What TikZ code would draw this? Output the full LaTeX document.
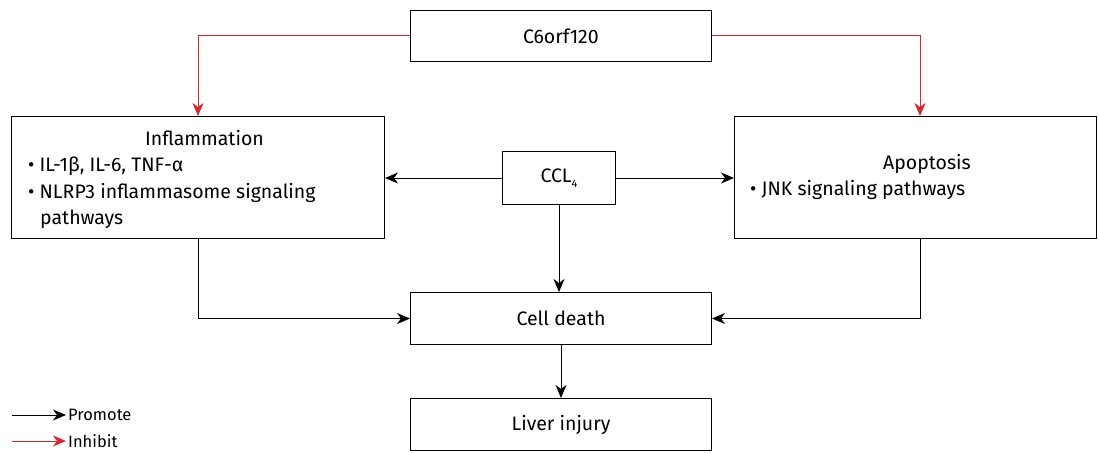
\documentclass[tikz,border=0pt]{standalone}
\usepackage{fontspec}
\setmainfont{Fira Sans}
\usetikzlibrary{arrows.meta}
\definecolor{inhred}{RGB}{214,40,48}
\begin{document}
\begin{tikzpicture}[x=1pt,y=-1pt,
  box/.style={draw,line width=1pt,inner sep=0pt,anchor=north west},
  prom/.style={line width=1pt,-{Stealth[length=13pt,width=11pt,inset=4pt]}},
  inh/.style={prom,draw=inhred},
  lbl/.style={font=\fontsize{19.5}{26.5}\selectfont}]
\useasboundingbox (0,0) rectangle (1099,452);
\node[box,minimum width=301pt,minimum height=51pt,lbl] (c6) at (410,10) {C6orf120};
\node[box,minimum width=373pt,minimum height=122pt] (inf) at (11,116) {};
\node[lbl,align=left,anchor=north west,inner sep=0pt] (inft) at (28,130) {\hspace*{117pt}Inflammation\\ \textbullet\ IL-1β, IL-6, TNF-α\\ \textbullet\ NLRP3 inflammasome signaling\\ \hspace*{12pt}pathways};
\node[box,minimum width=362pt,minimum height=122pt] (apo) at (734,116) {};
\node[lbl,align=left,anchor=north west,inner sep=0pt] (apot) at (750,154) {\hspace*{133pt}Apoptosis\\ \textbullet\ JNK signaling pathways};
\node[box,minimum width=113pt,minimum height=53pt,lbl] (ccl) at (502,151) {CCL\raisebox{-5pt}{\fontsize{11}{11}\selectfont 4}};
\node[box,minimum width=301pt,minimum height=52pt,lbl] (cd) at (410,292) {Cell death};
\node[box,minimum width=301pt,minimum height=52pt,lbl] (li) at (410,398) {Liver injury};
\draw[inh] (c6.west) -| (198,116);
\draw[inh] (c6.east) -| (920,116);
\draw[prom] (ccl.west) -- (ccl.west -| inf.east);
\draw[prom] (ccl.east) -- (ccl.east -| apo.west);
\draw[prom] (ccl.south) -- (ccl.south |- cd.north);
\draw[prom] (198,238) |- (cd.west);
\draw[prom] (920,238) |- (cd.east);
\draw[prom] (cd.south) -- (li.north);
\coordinate (la1) at (12,415); \coordinate (la2) at (66,415);
\coordinate (lb1) at (12,441); \coordinate (lb2) at (66,441);
\draw[prom] (la1) -- (la2);
\draw[inh] (lb1) -- (lb2);
\node[anchor=west,font=\fontsize{16.5}{18}\selectfont,inner sep=2pt] (lp) at (la2) {Promote};
\node[anchor=west,font=\fontsize{16.5}{18}\selectfont,inner sep=2pt] (lh) at (lb2) {Inhibit};
\end{tikzpicture}
\end{document}
